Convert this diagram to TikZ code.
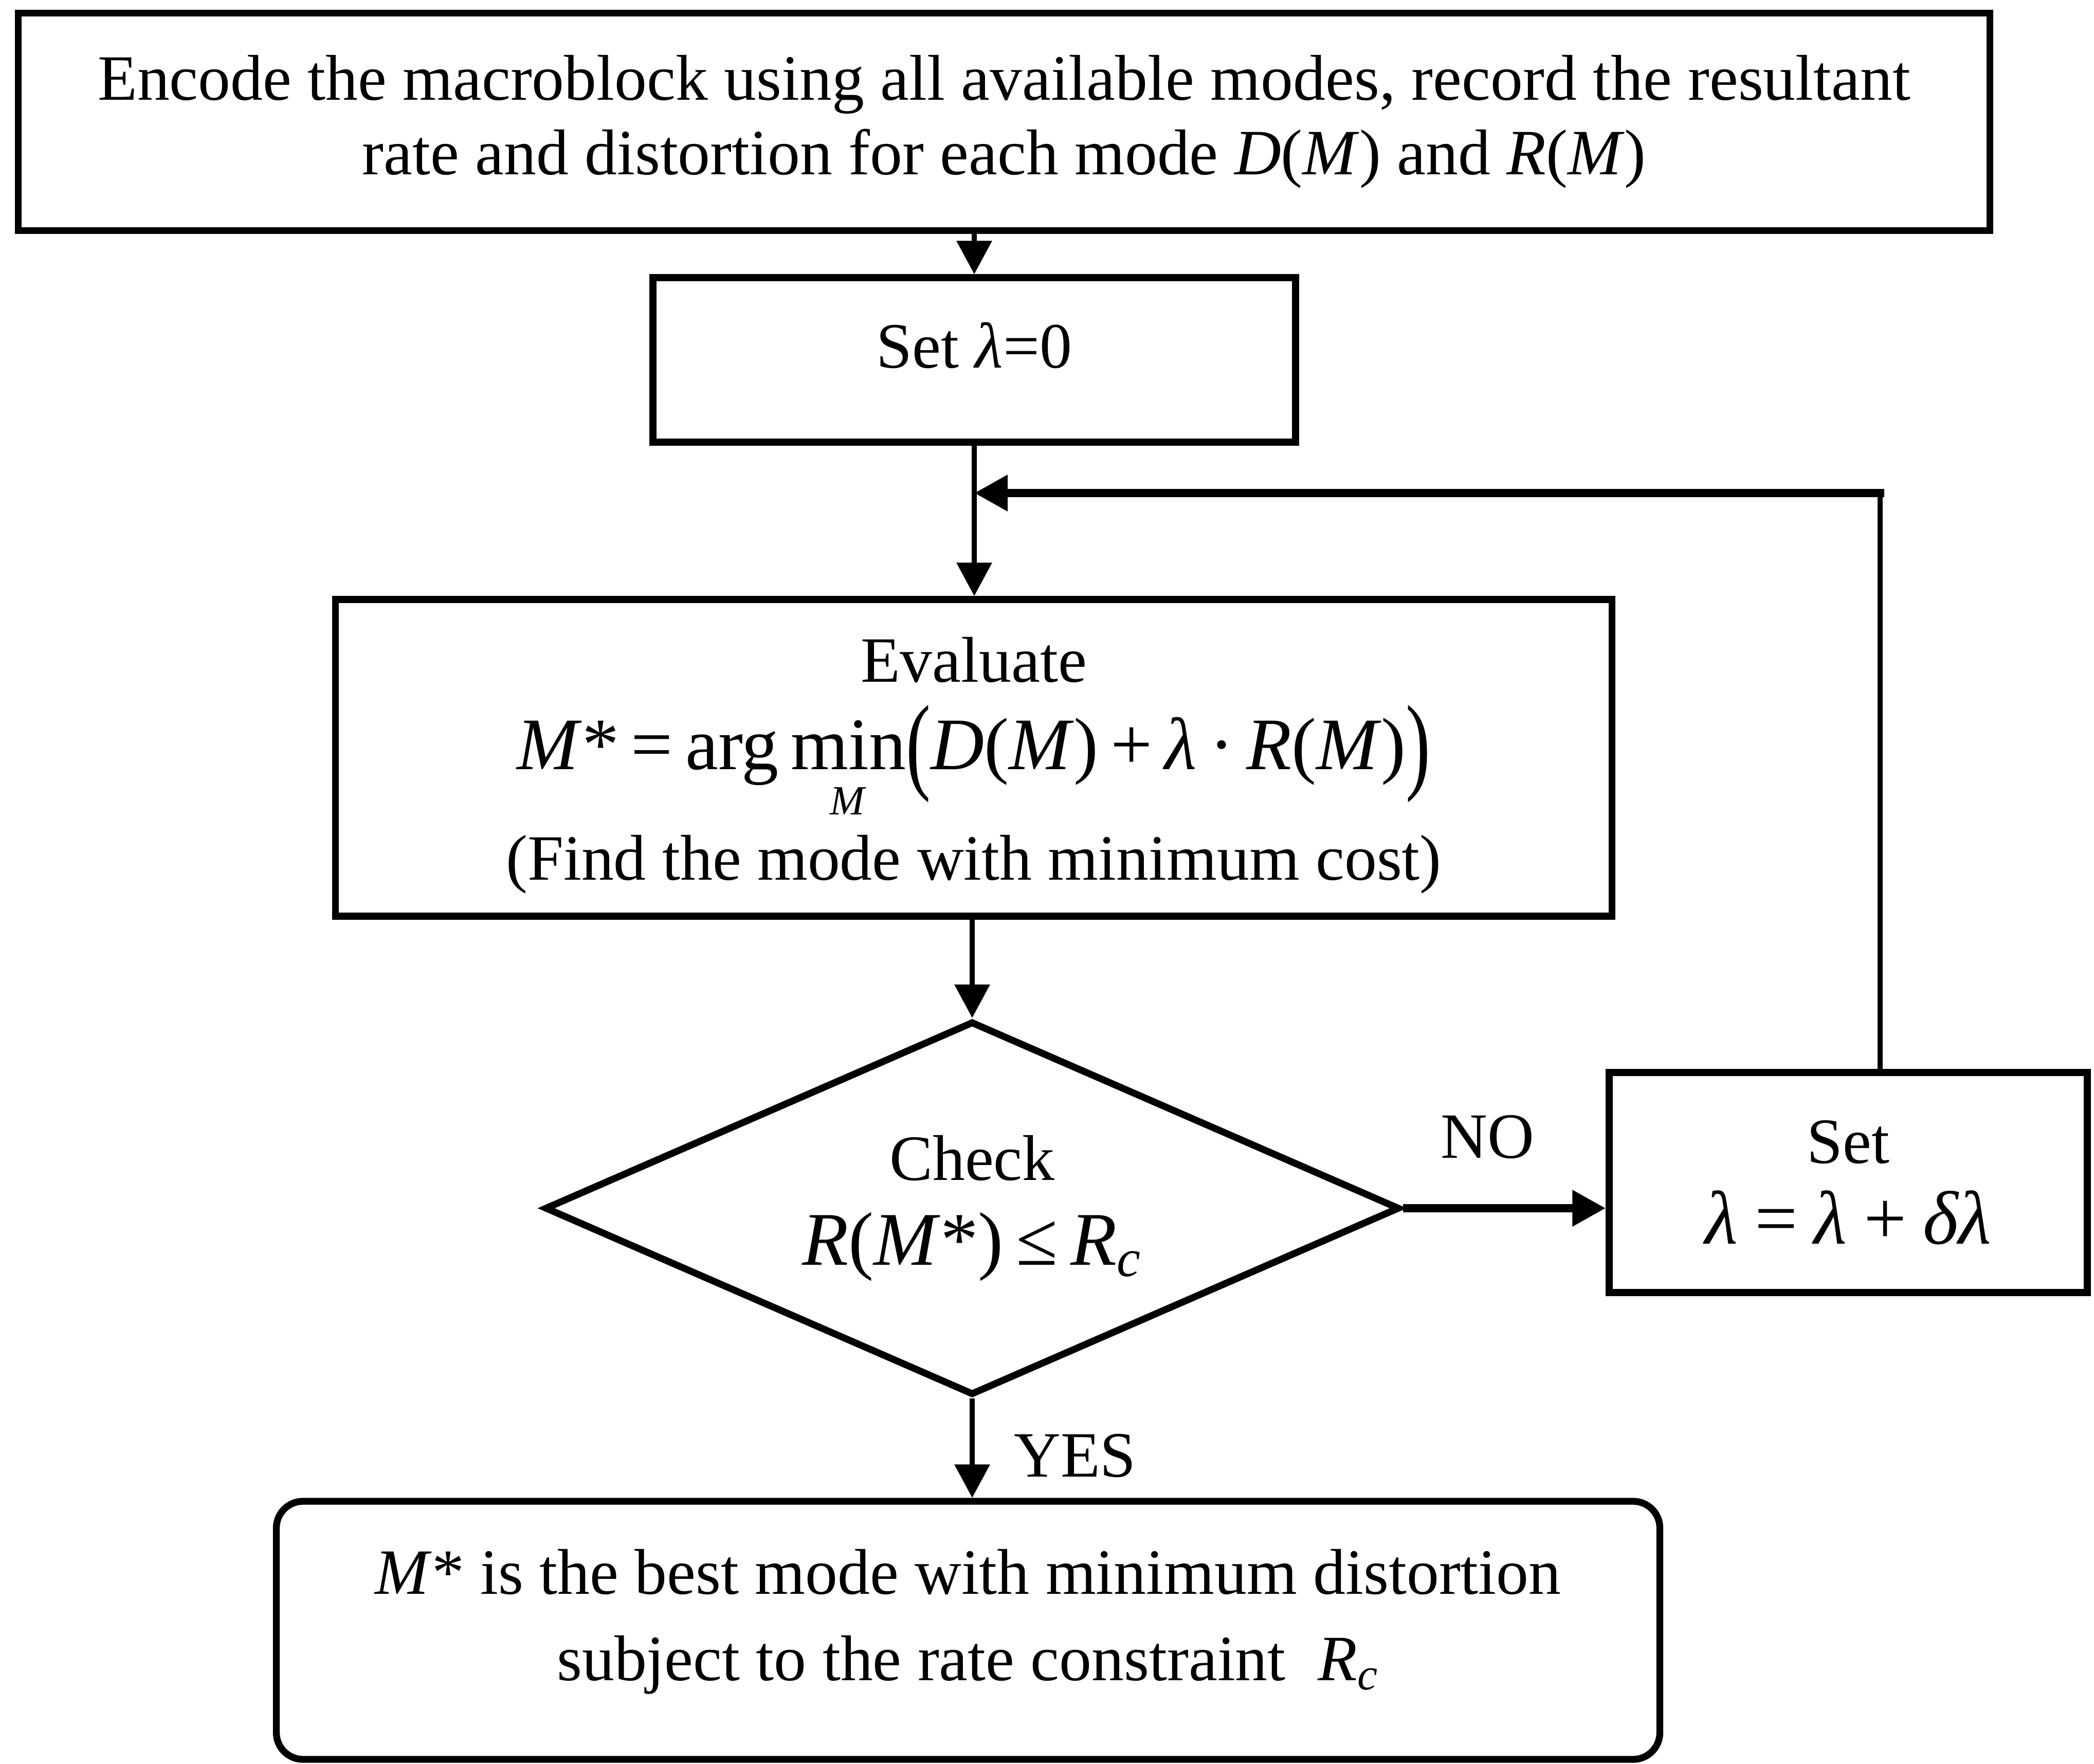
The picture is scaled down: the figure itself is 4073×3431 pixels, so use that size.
\documentclass[tikz,border=0pt]{standalone}
\usepackage{fontspec}
\setmainfont{Liberation Serif}
\usepackage{graphicx}
\usetikzlibrary{shapes.geometric,arrows.meta}
\newcommand\mi[1]{\textit{#1}}
\newcommand\bigpar[1]{\raisebox{-0.14em}{\scalebox{1}[1.45]{#1}}}
\newcommand\tightlines{\lineskiplimit=-100pt\relax}
\newcommand\minM{\ooalign{min\cr\hidewidth\raisebox{-12.5pt}{\fontsize{11.5pt}{11.5pt}\selectfont\mi{M}}\hidewidth\cr}}
\begin{document}
\begin{tikzpicture}[x=0.005cm,y=-0.005cm,
  every node/.style={font=\fontsize{17.9pt}{20.6pt}\selectfont},
  box/.style={draw, line width=1.9pt, inner sep=0pt, align=center},
  tip/.style={-{Triangle[length=3.25mm,width=3.35mm]}},
  connv/.style={line width=1.4pt, tip},
  connh/.style={line width=2.2pt, tip},
  lbl/.style={inner sep=0pt}
  ]
\useasboundingbox (0,0) rectangle (4073,3431);

\node[box, minimum width={3835*0.005cm}, minimum height={423*0.005cm}] (top) at (1953,237)
  {Encode the macroblock using all available modes, record the resultant\\
   rate and distortion for each mode \mi{D}(\mi{M}) and \mi{R}(\mi{M})};

\node[box, minimum width={1250*0.005cm}, minimum height={320*0.005cm}] (set0) at (1895,700)
  {\raisebox{0.29cm}{Set \mi{λ}=0}};

\node[box, minimum width={2483*0.005cm}, minimum height={616*0.005cm},
      font={\fontsize{17.9pt}{24.2pt}\selectfont\tightlines}] (eval) at (1894,1474)
  {\rule{0pt}{16.7pt}Evaluate\\
   {\fontsize{20.5pt}{24.2pt}\selectfont\mi{M}*\,=\,arg\,\minM\bigpar{(}\mi{D}(\mi{M})\,+\,\mi{λ}\,·\,\mi{R}(\mi{M})\bigpar{)}}\\[6.4pt]
   (Find the mode with minimum cost)};

\node[draw, diamond, aspect=2.3, line width=1.9pt, inner sep=0pt, align=center,
      minimum width={1663*0.005cm}, minimum height={727*0.005cm},
      font={\fontsize{17.9pt}{23.5pt}\selectfont}] (dia) at (1891,2350)
  {Check\\ {\fontsize{21pt}{23.5pt}\selectfont\mi{R}(\mi{M}*)\,≤\,\mi{R}\textsubscript{\mi{c}}}};

\node[box, minimum width={930*0.005cm}, minimum height={428*0.005cm},
      font={\fontsize{17.9pt}{22.4pt}\selectfont}] (setd) at (3595,2300)
  {Set\\ {\fontsize{21pt}{22.4pt}\selectfont\mi{λ}\hspace{0.22em}=\hspace{0.22em}\mi{λ}\hspace{0.22em}+\hspace{0.22em}\mi{δλ}}};

\node[box, rounded corners=0.26cm, minimum width={2691*0.005cm}, minimum height={502*0.005cm},
      font={\fontsize{17.9pt}{24pt}\selectfont}] (final) at (1883,3171)
  {\begin{tabular}{@{}c@{}}\mi{M}* is the best mode with minimum distortion\\
   subject to the rate constraint \ \mi{R}\textsubscript{\mi{c}}\rule[-13pt]{0pt}{1pt}\end{tabular}};

\node[lbl] (no) at (2893,2211) {NO};
\node[lbl] (yes) at (2091,2831) {YES};

\coordinate (lp) at (3657,959);

\draw[connv] (set0.north |- top.south) -- (set0.north);
\draw[connv] (set0.south) -- (eval.north -| set0.south);
\draw[line width=1.4pt, line cap=rect] (setd.north -| lp) -- (lp);
\draw[connh, line cap=rect] (lp) -- (lp -| set0.south);
\draw[connv] (dia.north |- eval.south) -- (dia.north);
\draw[connh] (dia.east) -- (dia.east -| setd.west);
\draw[connv] (dia.south) -- (final.north -| dia.south);
\end{tikzpicture}
\end{document}
